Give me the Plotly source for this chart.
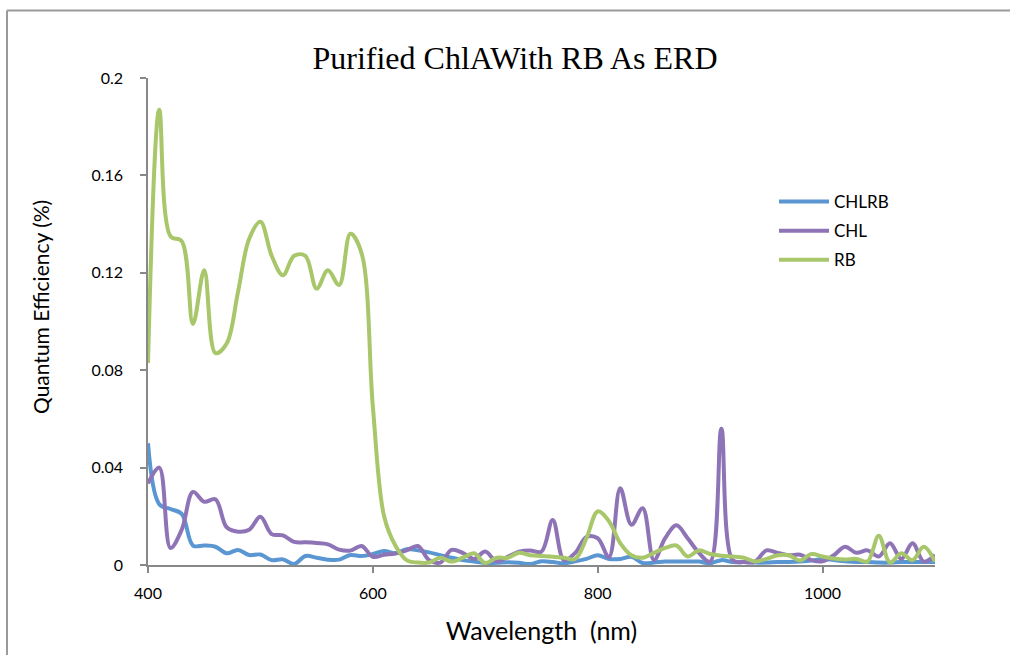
import plotly.graph_objects as go

wavelength = [400, 410, 420, 430, 440, 450, 460, 470, 480, 490,
              500, 510, 520, 530, 540, 550, 560, 570, 580, 590,
              600, 610, 620, 630, 640, 650, 660, 670, 680, 690,
              700, 710, 720, 730, 740, 750, 760, 770, 780, 790,
              800, 810, 820, 830, 840, 850, 860, 870, 880, 890,
              900, 910, 920, 930, 940, 950, 960, 970, 980, 990,
              1000, 1010, 1020, 1030, 1040, 1050, 1060, 1070, 1080, 1090,
              1100]

chlrb = [0.050, 0.025, 0.023, 0.021, 0.008, 0.008, 0.0075, 0.0048, 0.0062, 0.0041,
         0.0043, 0.0020, 0.0023, 0.0004, 0.0037, 0.0030, 0.0022, 0.0022, 0.0041, 0.0037,
         0.0045, 0.0058, 0.0048, 0.0065, 0.0060, 0.0052, 0.0040, 0.0030, 0.0020, 0.0014,
         0.0008, 0.0009, 0.0011, 0.0009, 0.0004, 0.0015, 0.0012, 0.0007, 0.0015, 0.0025,
         0.0040, 0.0025, 0.0025, 0.0034, 0.0008, 0.0010, 0.0014, 0.0014, 0.0014, 0.0014,
         0.0007, 0.0020, 0.0012, 0.0012, 0.0010, 0.0010, 0.0012, 0.0012, 0.0014, 0.0018,
         0.0025, 0.0020, 0.0015, 0.0012, 0.0012, 0.0010, 0.0010, 0.0012, 0.0012, 0.0012,
         0.0012]

chl = [0.0335, 0.040, 0.007, 0.0145, 0.030, 0.026, 0.027, 0.0155, 0.0137, 0.0145,
       0.0198, 0.0127, 0.0122, 0.0095, 0.0093, 0.0090, 0.0085, 0.0063, 0.0059, 0.0078,
       0.0034, 0.0042, 0.0047, 0.0060, 0.0078, 0.0020, 0.0010, 0.0062, 0.0050, 0.0025,
       0.0055, 0.0015, 0.0034, 0.0055, 0.0060, 0.0055, 0.0185, 0.0020, 0.0050, 0.0115,
       0.0110, 0.0032, 0.0315, 0.0165, 0.0233, 0.0020, 0.0110, 0.0163, 0.0110, 0.0050,
       0.0014, 0.0560, 0.0020, 0.0012, 0.0014, 0.0060, 0.0050, 0.0040, 0.0042, 0.0020,
       0.0015, 0.0040, 0.0075, 0.0050, 0.0060, 0.0035, 0.0089, 0.0025, 0.0089, 0.0014,
       0.0041]

rb = [0.083, 0.187, 0.135, 0.133, 0.099, 0.121, 0.087, 0.091, 0.112, 0.134,
      0.141, 0.127, 0.119, 0.127, 0.127, 0.1135, 0.121, 0.115, 0.136, 0.128,
      0.065, 0.020, 0.008, 0.002, 0.001, 0.001, 0.003, 0.0014, 0.003, 0.0048,
      0.0008, 0.003, 0.003, 0.005, 0.004, 0.0037, 0.0034, 0.003, 0.0025, 0.011,
      0.022, 0.018, 0.009, 0.004, 0.003, 0.005, 0.007, 0.008, 0.0035, 0.006,
      0.0045, 0.0038, 0.0035, 0.003, 0.0014, 0.0025, 0.004, 0.004, 0.0018, 0.0045,
      0.0035, 0.0027, 0.0023, 0.0025, 0.0015, 0.012, 0.001, 0.0048, 0.002, 0.0075,
      0.0014]

series_names = ["CHLRB", "CHL", "RB"]
series_colors = ["#5A96D2", "#8E74B6", "#A8C66A"]

x_ticks = [400, 600, 800, 1000]
y_ticks = [0, 0.04, 0.08, 0.12, 0.16, 0.2]
y_tick_text = ["0", "0.04", "0.08", "0.12", "0.16", "0.2"]

W, H = 1010, 655
ML, MR, MT, MB = 148, 75, 78, 90

fig = go.Figure()
for name, vals, col in zip(series_names, [chlrb, chl, rb], series_colors):
    fig.add_trace(go.Scatter(
        x=wavelength, y=vals, name=name, mode="lines",
        line=dict(color=col, width=4, shape="spline", smoothing=1.0),
        legendgroup=name,
    ))

pw = W - ML - MR
ph = H - MT - MB
def px_x(p):
    return (p - ML) / pw
def px_y(p):
    return (H - MB - p) / ph

axis_col = "#888888"
font_family = "Lato, 'Noto Sans', sans-serif"

fig.update_layout(
    width=W, height=H,
    margin=dict(l=ML, r=MR, t=MT, b=MB, autoexpand=False),
    paper_bgcolor="white", plot_bgcolor="white",
    font=dict(family=font_family, color="#000000", size=16),
    title=dict(text="Purified ChlAWith RB As ERD",
               font=dict(family="'Liberation Serif', 'Times New Roman', serif", size=32, color="#000000"),
               x=515 / W, xanchor="center", xref="container",
               y=1 - 58 / H, yanchor="middle", yref="container"),
    xaxis=dict(range=[400, 1100], tickvals=x_ticks, ticktext=[str(v) for v in x_ticks],
               showgrid=False, zeroline=False, showline=True, linecolor=axis_col, linewidth=1.5,
               ticks="outside", ticklen=6, tickcolor=axis_col, tickwidth=1.5,
               tickfont=dict(size=16), ticklabelstandoff=7,
               title=dict(text="Wavelength\u00a0 (nm)", font=dict(size=25), standoff=22),
               automargin=False),
    yaxis=dict(range=[0, 0.2], tickvals=y_ticks, ticktext=y_tick_text,
               showgrid=False, zeroline=False, showline=True, linecolor=axis_col, linewidth=1.5,
               ticks="outside", ticklen=6, tickcolor=axis_col, tickwidth=1.5,
               tickfont=dict(size=16), ticklabelstandoff=14,
               automargin=False),
    annotations=[
        dict(text="Quantum Efficiency (%)", textangle=-90, showarrow=False,
             xref="paper", yref="paper", x=px_x(40), y=px_y(307),
             xanchor="center", yanchor="middle", font=dict(size=21)),
    ],
    legend=dict(x=px_x(774), y=px_y(184), xanchor="left", yanchor="top",
                bgcolor="rgba(0,0,0,0)", font=dict(size=17), tracegroupgap=4,
                itemwidth=50),
    shapes=[
        dict(type="line", xref="paper", yref="paper",
             x0=px_x(7), x1=px_x(7), y0=px_y(H + 5), y1=px_y(10.5),
             line=dict(color="#9a9a9a", width=2)),
        dict(type="line", xref="paper", yref="paper",
             x0=px_x(7), x1=px_x(W + 5), y0=px_y(10.5), y1=px_y(10.5),
             line=dict(color="#9a9a9a", width=2)),
    ],
)

fig.write_html("out.html", config={"displayModeBar": False},
               post_script="document.body.style.margin='0';document.body.style.padding='0';document.body.style.overflow='hidden';")
